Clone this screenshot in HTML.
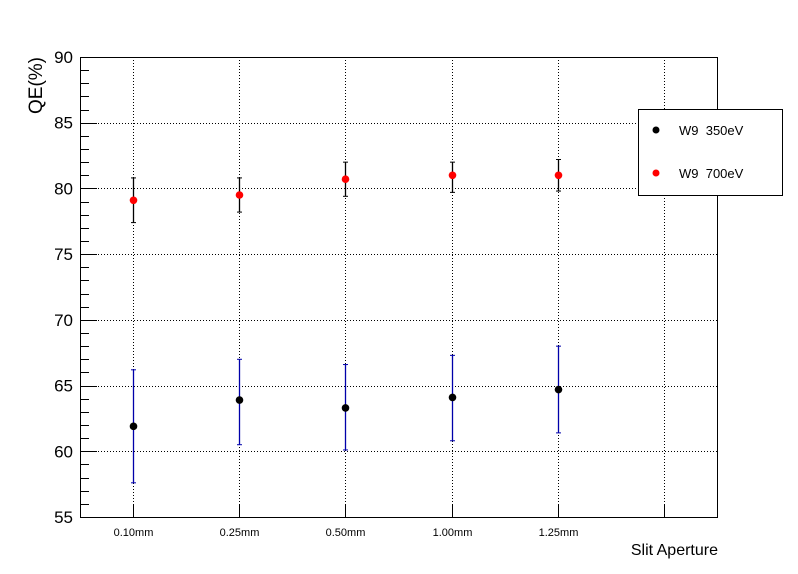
<!DOCTYPE html>
<html><head><meta charset="utf-8"><style>
body{margin:0;background:#fff}
svg{display:block;font-family:"Liberation Sans",sans-serif}
</style></head><body>
<svg id="c" width="798" height="574">
<rect width="798" height="574" fill="#fff"/>
<g id="grid"></g>
<g id="axes"></g>
<g id="marks"></g>
<text x="718" y="555" text-anchor="end" font-size="16">Slit Aperture</text>
<text transform="translate(42,57) rotate(-90)" text-anchor="end" font-size="19">QE(%)</text>
<g>
<rect x="638.5" y="109.5" width="144" height="86" fill="#fff" stroke="#000"/>
<circle cx="656" cy="130" r="3.5" fill="#000"/>
<text x="679" y="135" font-size="13">W9&#160;&#160;350eV</text>
<circle cx="656" cy="173" r="3.5" fill="#f00"/>
<text x="679" y="178" font-size="13">W9&#160;&#160;700eV</text>
</g>
</svg>
<script>
const categories=["0.10mm","0.25mm","0.50mm","1.00mm","1.25mm"];
const yTicks=[55,60,65,70,75,80,85,90];
const s350=[61.9,63.9,63.3,64.1,64.7];
const s350Lo=[57.6,60.5,60.1,60.8,61.4];
const s350Hi=[66.2,67.0,66.6,67.3,68.0];
const s700=[79.1,79.5,80.7,81.0,81.0];
const s700Lo=[77.4,78.2,79.4,79.7,79.8];
const s700Hi=[80.8,80.8,82.0,82.0,82.2];
const L=80,R=718,T=57,B=517,nb=6,ymin=55,ymax=90;
const bw=(R-L)/nb;
const X=i=>Math.floor(L+bw*(i+0.5))+0.5;
const Y=v=>B-(v-ymin)/(ymax-ymin)*(B-T);
const NS="http://www.w3.org/2000/svg";
function mk(p,t,a){const e=document.createElementNS(NS,t);for(const k in a)e.setAttribute(k,a[k]);p.appendChild(e);return e;}
const grid=document.getElementById('grid'),axes=document.getElementById('axes'),marks=document.getElementById('marks');
for(let i=0;i<nb;i++){const l=mk(grid,'line',{x1:X(i),x2:X(i),y1:T,y2:B,stroke:'#000','stroke-dasharray':'1,2'});

}
yTicks.forEach(v=>{if(v>ymin&&v<ymax){const yy=Math.round(Y(v))+0.5;const l=mk(grid,'line',{x1:L,x2:R,y1:yy,y2:yy,stroke:'#000','stroke-dasharray':'1,2'});

}});
const fr=mk(axes,'rect',{x:L+.5,y:T+.5,width:R-L-1,height:B-T,fill:'none',stroke:'#000'});


for(let v=ymin;v<=ymax+1e-9;v+=1){const maj=Math.round(v)%5===0;const yy=Math.round(Y(v))+0.5;mk(axes,'line',{x1:L,x2:L+(maj?17:9),y1:yy,y2:yy,stroke:'#000'});}
yTicks.forEach(v=>{const t=mk(axes,'text',{x:L-7,y:Y(v)+6,'text-anchor':'end','font-size':'17'});t.textContent=v;

});
for(let i=0;i<nb;i++)mk(axes,'line',{x1:X(i),x2:X(i),y1:B,y2:B-13,stroke:'#000'});
categories.forEach((c,i)=>{const t=mk(axes,'text',{x:X(i),y:B+19,'text-anchor':'middle','font-size':'11'});t.textContent=c;

});
function series(vals,lo,hi,col,ecol,name){vals.forEach((v,i)=>{const x=X(i);
mk(marks,'line',{x1:x,x2:x,y1:Y(lo[i]),y2:Y(hi[i]),stroke:ecol,'stroke-width':1.3});
mk(marks,'line',{x1:x-2.5,x2:x+2.5,y1:Y(lo[i]),y2:Y(lo[i]),stroke:ecol});
mk(marks,'line',{x1:x-2.5,x2:x+2.5,y1:Y(hi[i]),y2:Y(hi[i]),stroke:ecol});
const c=mk(marks,'circle',{cx:x,cy:Y(v),r:3.8,fill:col});

});}
series(s350,s350Lo,s350Hi,'#000','#0000aa','w9-350ev');
series(s700,s700Lo,s700Hi,'#f00','#000','w9-700ev');
</script>
</body></html>
